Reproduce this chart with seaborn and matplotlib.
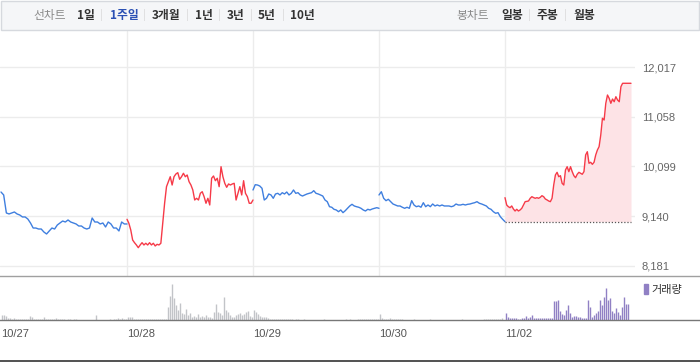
import numpy as np
import pandas as pd
import matplotlib.pyplot as plt
import seaborn as sns
from matplotlib.patches import Rectangle, Patch

# ---------------- data ----------------
dates = ['10/27', '10/28', '10/29', '10/30', '11/02']
price_ticks = [8181, 9140, 10099, 11058, 12017]
prev_close = 9035

price_1027 = [9607, 9550, 9203, 9184, 9203, 9222, 9184, 9164, 9126, 9126, 9087, 9010,
              8913, 8913, 8894, 8894, 8836, 8798, 8856, 8913, 8894, 8971, 9010, 9048,
              9029, 9068, 9029, 9010, 8991, 8952, 8952, 8913, 8894, 8913, 9106, 9029,
              9029, 8991, 9010, 8933, 9029, 8991, 8913, 8913, 8856, 9029, 8991, 8991]
price_1028 = [9081, 9004, 8875, 8682, 8630, 8586, 8534, 8586, 8630, 8586, 8619, 8586,
              8630, 8586, 8619, 8567, 8599, 8586, 8619, 9004, 9390, 9710, 9806, 9902,
              9742, 9902, 9954, 9980, 9852, 9902, 9968, 9902, 9935, 9806, 9742, 9646,
              9453, 9486, 9453, 9582, 9613, 9517, 9390, 9486, 9357, 9872, 9916, 9825,
              9872, 9710, 10095, 9902, 9775, 9698, 9762, 9742, 9762, 9775, 9453, 9582,
              9710, 9550, 9825, 9582, 9517, 9390, 9390, 9453]
price_1029 = [9646, 9748, 9742, 9723, 9679, 9453, 9486, 9569, 9550, 9486, 9569, 9582,
              9550, 9594, 9569, 9607, 9550, 9582, 9646, 9582, 9594, 9550, 9530, 9550,
              9569, 9582, 9594, 9633, 9582, 9569, 9550, 9530, 9453, 9421, 9324, 9313,
              9274, 9261, 9228, 9261, 9209, 9247, 9293, 9338, 9370, 9338, 9324, 9313,
              9293, 9261, 9241, 9274, 9261, 9280, 9293, 9305, 9293]
price_1030 = [9550, 9613, 9486, 9440, 9467, 9421, 9376, 9357, 9338, 9338, 9313, 9293,
              9313, 9293, 9440, 9357, 9324, 9338, 9313, 9401, 9324, 9357, 9324, 9376,
              9338, 9357, 9338, 9357, 9338, 9338, 9338, 9324, 9338, 9376, 9357, 9357,
              9370, 9357, 9370, 9376, 9390, 9401, 9421, 9390, 9376, 9357, 9338, 9293,
              9274, 9228, 9197, 9209, 9131, 9081, 9035]
price_1102 = [9498, 9357, 9324, 9305, 9338, 9280, 9241, 9274, 9241, 9261, 9293, 9357,
              9421, 9427, 9434, 9486, 9517, 9500, 9486, 9498, 9486, 9505, 9536, 9517,
              9473, 9455, 9434, 9421, 9486, 9742, 9935, 9987, 9902, 9922, 9775, 9742,
              10032, 10095, 9999, 10095, 9999, 9922, 9883, 9949, 9987, 9968, 9949, 9999,
              10321, 10384, 10161, 10180, 10141, 10180, 10321, 10417, 10481, 10706, 11028,
              10995, 11317, 11477, 11414, 11317, 11400, 11348, 11444, 11381, 11348, 11637,
              11703, 11703, 11703, 11703, 11703, 11703]

vol_1027 = [5, 5, 4, 2, 2, 1, 2, 1, 1, 1, 1, 1, 1, 1, 4, 3, 1, 1, 1, 1, 1, 3, 1, 1, 1, 1, 1,
            2, 0.5, 0.5, 1, 0.5, 0, 0.5, 1, 0, 0.5, 1, 0, 0, 0, 0, 0, 0, 0, 0, 0, 5, 0, 0,
            0, 0, 0, 0, 0.5, 0, 1, 1, 1.5, 1, 1.5, 1, 1]
vol_1028 = [3, 3, 3, 1, 1, 0.5, 1, 0.5, 1, 1, 0.5, 1, 0.5, 1, 0.5, 1, 1, 0.5, 1, 1,
            13, 24, 36, 22, 15, 10, 17, 7, 6, 11, 5, 7, 3, 4, 3, 6, 3, 4, 3, 5, 3, 3, 2,
            8, 16, 8, 7, 5, 23, 10, 8, 5, 3, 3, 5, 6, 7, 5, 6, 8, 9, 4, 3]
vol_1029 = [10, 8, 6, 4, 3, 3, 3, 2, 1, 1, 1, 1, 1, 1, 1, 1, 0.5, 0.5, 1, 0.5, 0, 0.5,
            0.5, 0, 0, 0.5, 0, 0, 0, 0, 0, 0, 0, 0, 0, 1, 0, 0, 0, 0, 0, 0, 0, 0, 0, 0, 1,
            0, 0.5, 0, 0, 0, 1, 1, 1, 1, 1, 1, 0.5, 1, 1, 1, 0.5]
vol_1030 = [6, 1.5, 1, 1, 1, 1.5, 1, 1, 0.5, 0.5, 1, 0.5, 0, 0, 0, 0, 0, 1, 0, 0, 0, 0,
            0, 0, 0, 1, 0, 0, 0, 0, 0, 0, 0, 0, 0, 0, 0, 0, 0, 0, 0, 1, 0, 0, 0, 0, 0, 0,
            0, 0, 0, 0, 1, 1, 0.5, 1, 1, 0.5, 1, 0.5, 1, 2, 0]
vol_1102 = [7, 3, 2, 2, 1.5, 1.5, 1, 1, 2, 1.5, 4, 2, 3, 5, 2, 1.5, 1.5, 1.5, 1.5, 1.5,
            1.5, 1.5, 2, 1.5, 19, 19, 20, 9, 6, 5, 10, 15, 7, 3, 4, 4, 3, 3, 2, 1.5, 2,
            20, 13, 3, 5, 7, 9, 20, 15, 23, 32, 20, 22, 9, 7, 12, 8, 5, 13, 23, 16, 16]

chart_tabs = ['1일', '1주일', '3개월', '1년', '3년', '5년', '10년']
candle_tabs = ['일봉', '주봉', '월봉']

prices = [price_1027, price_1028, price_1029, price_1030, price_1102]
volumes = [vol_1027, vol_1028, vol_1029, vol_1030, vol_1102]
up_days = [False, True, False, False, True]
slots_per_day = 63

RED, BLUE = '#f63a48', '#3f7fdf'
PURPLE, GRAY = '#9080c4', '#c2c4c8'

# ---------------- layout helpers ----------------
W, H = 700, 362
sns.set_theme(style='white')
plt.rcParams['font.family'] = ['Noto Sans CJK KR', 'DejaVu Sans']


def box(x0, y0, x1, y1):
    return [x0 / W, 1 - y1 / H, (x1 - x0) / W, (y1 - y0) / H]


fig = plt.figure(figsize=(7, 3.62), dpi=100)
fig.patch.set_facecolor('white')

# ---------------- tab bar ----------------
fig.patches.append(Rectangle((0.5 / W, 1 - 29.5 / H), 698.5 / W, 29 / H,
                             transform=fig.transFigure, facecolor='#f5f6f8',
                             edgecolor='#d6d9de', lw=1))
ty = 1 - 15 / H
fig.text(33 / W, ty, '선차트', fontsize=8.5, color='#8a8a8a', va='center')
tab_x = [77, 110, 152, 195, 227, 258, 290]
sep_x = [101, 144, 187, 219, 251, 283]
for name, x in zip(chart_tabs, tab_x):
    fig.text(x / W, ty, name, fontsize=8.5, fontweight='bold', va='center',
             color='#2b50b4' if name == '1주일' else '#333333')
fig.text(456 / W, ty, '봉차트', fontsize=8.5, color='#8a8a8a', va='center')
for name, x in zip(candle_tabs, [501, 537, 573]):
    fig.text(x / W, ty, name, fontsize=8.5, fontweight='bold', va='center', color='#333333')
for x in sep_x + [529, 565]:
    fig.text(x / W, ty, '|', fontsize=7, color='#d4d4d4', va='center', ha='center')

# ---------------- price panel ----------------
ax = fig.add_axes(box(0, 31, 635, 276))
frames = []
for d, (p, up) in enumerate(zip(prices, up_days)):
    frames.append(pd.DataFrame({'t': d + np.linspace(0, 1, len(p)), 'price': p,
                                'day': dates[d], 'up': up}))
df = pd.concat(frames, ignore_index=True)

last = df[df['day'] == dates[-1]]
ax.fill_between(last['t'], last['price'], prev_close, color='#fde3e6', lw=0, zorder=1)
ax.plot([last['t'].iloc[0], last['t'].iloc[-1]], [prev_close, prev_close],
        ls=(0, (1, 1.5)), color='#555555', lw=0.9, zorder=2)
for day, g in df.groupby('day', sort=False):
    sns.lineplot(data=g, x='t', y='price', ax=ax, color=RED if g['up'].iloc[0] else BLUE,
                 lw=1.0, zorder=3)

ax.set_xlim(-1 / 126, 634 / 126)
ax.set_ylim(7988, 12711)
ax.set_xticks(range(1, len(dates)))
ax.set_xticklabels([])
ax.set_yticks(price_ticks)
ax.set_yticklabels([f'{v:,}' for v in price_ticks], family='Liberation Sans')
ax.yaxis.tick_right()
ax.tick_params(axis='both', length=0)
ax.tick_params(axis='y', pad=5, labelsize=8, labelcolor='#666666')
ax.grid(True, color='#ececec', lw=1)
ax.set_xlabel('')
ax.set_ylabel('')
for s in ax.spines.values():
    s.set_visible(False)

# ---------------- volume panel ----------------
axv = fig.add_axes(box(0, 276, 700, 319.5))
for d, v in enumerate(volumes):
    xs = d + (np.arange(len(v)) + 0.5) / slots_per_day
    vals = np.asarray(v, dtype=float)
    keep = vals > 0
    axv.vlines(xs[keep], 0, vals[keep], colors=PURPLE if d == len(volumes) - 1 else GRAY,
               lw=1.0)
axv.set_xlim(-1 / 126, 699 / 126)
axv.set_ylim(0, 43.5)
axv.set_yticks([])
axv.set_xticks(range(len(dates)))
axv.set_xticklabels(dates, family='Liberation Sans', ha='left')
axv.tick_params(axis='x', length=5, width=1, color='#888888', pad=2,
                labelsize=8, labelcolor='#555555')
for side in ['left', 'right']:
    axv.spines[side].set_visible(False)
axv.spines['top'].set_color('#a0a0a0')
axv.spines['bottom'].set_color('#777777')
axv.spines['top'].set_linewidth(1)
axv.spines['bottom'].set_linewidth(1)
axv.legend(handles=[Patch(color=PURPLE, label='거래량')], loc='upper right',
           bbox_to_anchor=(690 / 700, 1.0), frameon=False, fontsize=8,
           handlelength=0.35, handleheight=1.0, handletextpad=0.3,
           borderaxespad=0.3, labelcolor='#333333')

# bottom border
fig.patches.append(Rectangle((0, 0), 1, 2.5 / H, transform=fig.transFigure,
                             facecolor='#555555', lw=0))

fig.savefig('out.png', dpi=100)
